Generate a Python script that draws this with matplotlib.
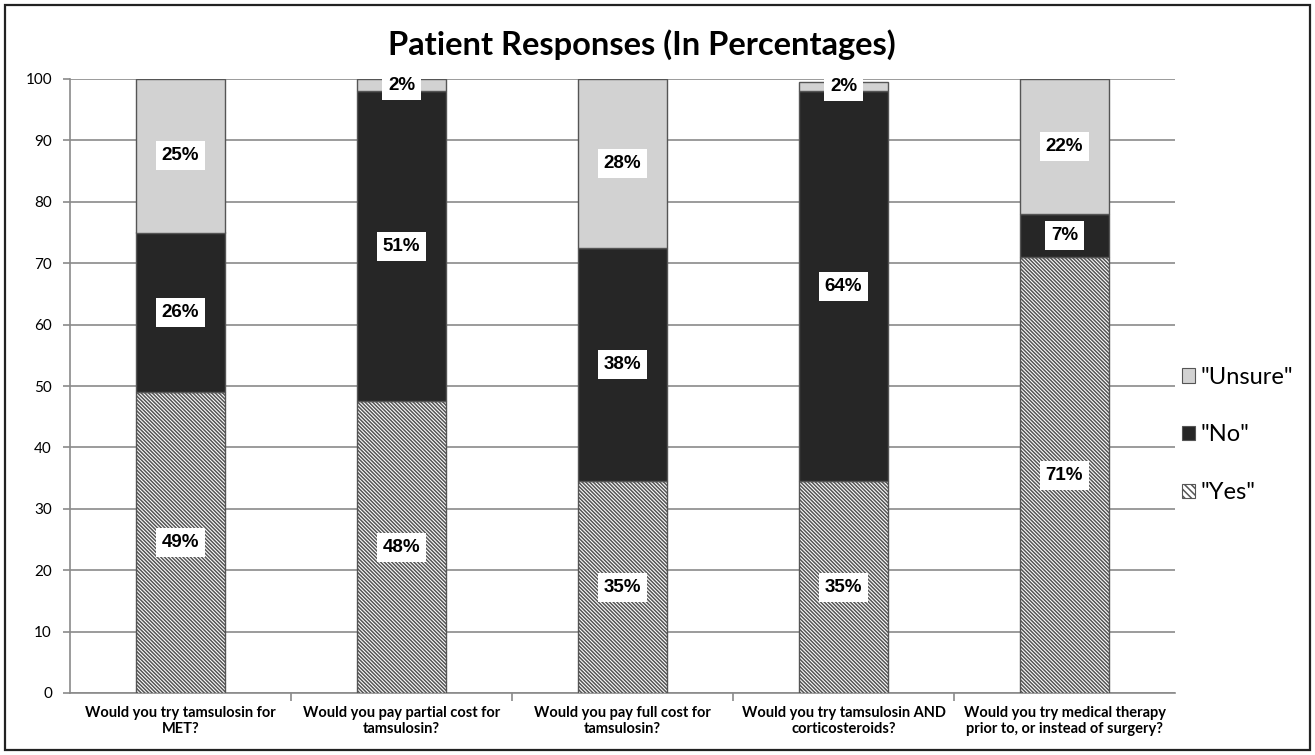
import math
import matplotlib
matplotlib.use("Agg")
import matplotlib.pyplot as plt
from matplotlib.patches import Patch, Rectangle

questions = [
    "Would you try tamsulosin for\nMET?",
    "Would you pay partial cost for\ntamsulosin?",
    "Would you pay full cost for\ntamsulosin?",
    "Would you try tamsulosin AND\ncorticosteroids?",
    "Would you try medical therapy\nprior to, or instead of surgery?",
]
yes_pct = [49.0, 47.5, 34.5, 34.5, 71.0]
no_pct = [26.0, 50.5, 38.0, 63.5, 7.0]
unsure_pct = [25.0, 2.0, 27.5, 1.5, 22.0]
y_ticks = list(range(0, 101, 10))

plt.rcParams["hatch.linewidth"] = 1.1
plt.rcParams["hatch.color"] = "#151515"

fig = plt.figure(figsize=(13.15, 7.55), dpi=100)
ax = fig.add_axes([70 / 1315, 62 / 755, 1105 / 1315, 614 / 755])

x = list(range(len(questions)))
width = 0.4
edge = "#555555"
yes_hatch = "\\" * 9

b_yes = ax.bar(x, yes_pct, width, color="white", edgecolor=edge, linewidth=1.0,
               hatch=yes_hatch, zorder=3)
b_no = ax.bar(x, no_pct, width, bottom=yes_pct, color="#262626", edgecolor=edge,
              linewidth=1.0, zorder=3)
base_unsure = [a + b for a, b in zip(yes_pct, no_pct)]
b_uns = ax.bar(x, unsure_pct, width, bottom=base_unsure, color="#d2d2d2",
               edgecolor=edge, linewidth=1.0, zorder=3)


def pct_label(v):
    return f"{math.floor(v + 0.5)}%"


label_font = dict(family="Liberation Sans", weight="bold", fontsize=13.5)
box = dict(boxstyle="square,pad=0.32", fc="white", ec="none")
for vals, bottoms in ((yes_pct, [0] * 5),
                      (no_pct, yes_pct),
                      (unsure_pct, base_unsure)):
    for xi, v, b in zip(x, vals, bottoms):
        ax.text(xi, b + v / 2, pct_label(v), ha="center", va="center",
                bbox=box, zorder=5, **label_font)

ax.set_xlim(-0.5, len(questions) - 0.5)
ax.set_ylim(0, 100)
ax.set_yticks(y_ticks)
ax.set_yticklabels([str(t) for t in y_ticks], family="Lato", fontsize=11)
ax.yaxis.grid(True, color="#8a8a8a", linewidth=1.2, zorder=0)
ax.set_axisbelow(True)

ax.set_xticks(x)
ax.set_xticklabels(questions, family="Lato", weight="bold", fontsize=10.5,
                   linespacing=1.25)
ax.tick_params(axis="x", length=0, pad=9)
ax.set_xticks([i + 0.5 for i in x[:-1]], minor=True)
ax.tick_params(axis="x", which="minor", length=6, color="#8a8a8a", width=1.2)
ax.tick_params(axis="y", length=5, color="#8a8a8a", width=1.2, pad=8)

for s in ("top", "right"):
    ax.spines[s].set_visible(False)
for s in ("left", "bottom"):
    ax.spines[s].set_color("#8a8a8a")
    ax.spines[s].set_linewidth(1.2)

fig.text(642 / 1315, 1 - 45 / 755, "Patient Responses (In Percentages)",
         ha="center", va="center", family="Lato", weight="bold", fontsize=23.5)

handles = [
    Patch(facecolor="#d2d2d2", edgecolor=edge, linewidth=0.8),
    Patch(facecolor="#262626", edgecolor=edge, linewidth=0.8),
    Patch(facecolor="white", edgecolor=edge, linewidth=0.8, hatch="\\" * 5),
]
fig.legend(handles, ['"Unsure"', '"No"', '"Yes"'],
           loc="center left", bbox_to_anchor=(1182 / 1315, 1 - 435 / 755),
           frameon=False, prop=dict(family="Lato", size=17),
           borderpad=0, borderaxespad=0,
           handlelength=0.55, handleheight=0.55, handletextpad=0.25,
           labelspacing=1.55)

fig.patches.append(Rectangle((5 / 1315, 5 / 755), 1305 / 1315, 745 / 755,
                             transform=fig.transFigure, fill=False,
                             edgecolor="#222222", linewidth=1.6))

fig.savefig("out.png", dpi=100)
